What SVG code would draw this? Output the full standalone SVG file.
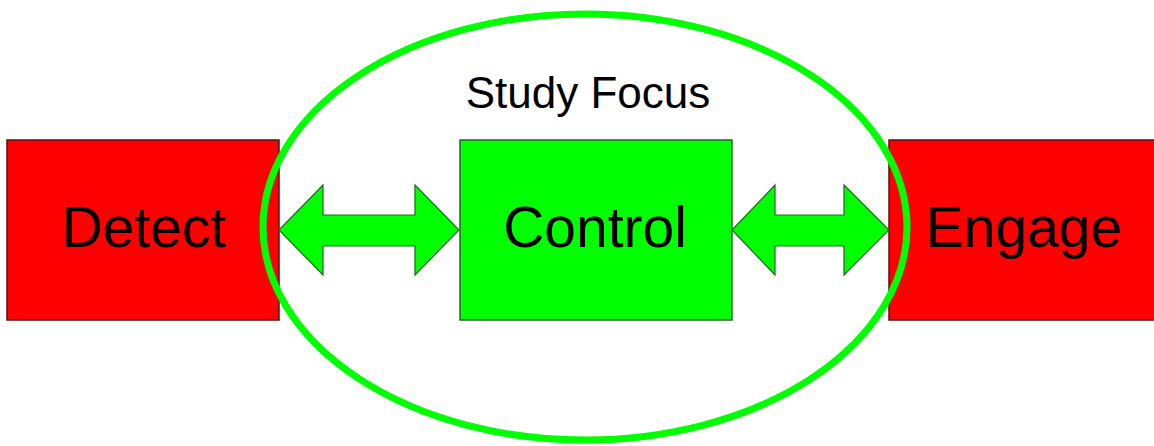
<svg xmlns="http://www.w3.org/2000/svg" width="1154" height="446" viewBox="0 0 1154 446">
<style>
.red{fill:#ff0000;stroke:#5a1010;stroke-width:1.5}
.grn{fill:#00ff00;stroke:#1f6a1f;stroke-width:1.5}
.lbl{font-family:"Liberation Sans",Arial,sans-serif;fill:#000;text-anchor:middle}
.arrow{fill:#00ff00;stroke:#1f6a1f;stroke-width:1.2;stroke-linejoin:miter}
</style>
<rect width="1154" height="446" fill="#fff"/>
<g id="detect">
<rect class="red" x="7" y="140" width="272" height="180"/>
<text class="lbl" x="144" y="247" font-size="57">Detect</text>
</g>
<g id="engage">
<rect class="red" x="889" y="140" width="268" height="180"/>
<text class="lbl" x="1024" y="247" font-size="57">Engage</text>
</g>
<g id="control">
<rect class="grn" x="460" y="140" width="272" height="180"/>
<text class="lbl" x="595" y="247" font-size="57">Control</text>
</g>
<g id="study-focus">
<ellipse cx="585" cy="227" rx="322" ry="213" fill="none" stroke="#00ff00" stroke-width="7"/>
<text class="lbl" x="588" y="108" font-size="44">Study Focus</text>
</g>
<g id="connectors">
<polygon class="arrow" points="279,230 323,185 323,215 415,215 415,185 459,230 415,275 415,246 323,246 323,275"/>
<polygon class="arrow" points="732,230 775,185 775,215 844,215 844,185 889,230 844,275 844,246 775,246 775,275"/>
</g>
</svg>
